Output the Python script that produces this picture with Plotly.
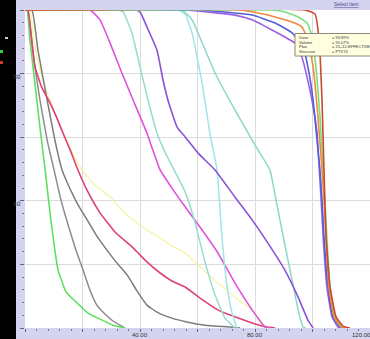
import plotly.graph_objects as go

# Cumulative dose-volume histogram: dose on x, volume (%) on y

green_oar_dose = [0, 0.7, 1.7, 2.8, 4.9, 7.0, 9.0, 11.5, 14.3, 18.1, 21.9, 26.1, 30.6, 34.8]
green_oar_vol = [100, 100, 90.6, 82.1, 65.4, 49.7, 34.0, 18.2, 11.3, 7.9, 4.7, 2.8, 0.9, 0]

gray_a_dose = [0, 1.0, 3.1, 5.2, 7.7, 10.1, 12.5, 15.0, 17.7, 20.2, 22.6, 25.0, 27.8, 30.6, 34.8]
gray_a_vol = [100, 100, 84.3, 71.7, 59.1, 49.7, 40.3, 32.4, 24.5, 18.2, 11.9, 7.2, 4.4, 2.2, 0]

gray_b_dose = [0, 2.4, 4.5, 7.7, 10.4, 12.9, 14.6, 18.1, 21.6, 25.0, 28.5, 32.0, 35.5, 39.0,
               42.4, 45.9, 51.1, 56.3, 62.6, 71.3, 74.8]
gray_b_vol = [100, 100, 87.4, 71.7, 59.1, 49.7, 45.9, 39.3, 34.0, 28.9, 24.5, 20.4, 16.7, 11.6,
              7.2, 5.0, 3.1, 1.9, 0.9, 0.3, 0]

crimson_dose = [0, 1.0, 2.1, 3.5, 5.9, 8.7, 11.1, 13.2, 15.7, 18.4, 21.9, 26.1, 31.3, 37.6,
                42.4, 47.0, 51.1, 55.7, 60.9, 67.1, 73.0, 79.0, 84.2, 87.0]
crimson_vol = [100, 100, 92.1, 82.1, 75.5, 70.8, 66.0, 61.3, 56.0, 49.7, 42.8, 36.2, 30.2, 25.2,
               20.8, 17.3, 14.8, 12.9, 9.4, 5.7, 3.5, 1.6, 0.3, 0]

yellow_dose = [0, 1.7, 3.1, 5.2, 8.0, 11.5, 15.7, 19.8, 24.3, 29.6, 33.7, 37.6, 42.4, 47.0,
               51.1, 55.7, 60.9, 67.1, 73.0, 79.0, 82.4, 84.5]
yellow_vol = [100, 100, 90.6, 81.1, 73.3, 65.4, 56.6, 49.7, 45.0, 41.2, 37.1, 34.0, 30.8, 28.3,
              25.8, 23.6, 19.2, 14.2, 9.7, 5.7, 1.9, 0]

magenta_dose = [0, 22.6, 26.1, 29.6, 33.7, 37.6, 42.4, 47.0, 51.1, 55.7, 61.6, 67.1, 73.0, 79.0, 83.5, 85.2]
magenta_vol = [100, 100, 96.9, 89.6, 80.2, 71.7, 61.3, 49.7, 44.0, 38.1, 30.8, 23.6, 14.2, 5.7, 0.3, 0]

teal_dose = [0, 32.3, 34.1, 37.2, 40.0, 42.8, 45.9, 48.7, 52.2, 55.7, 59.1, 62.6, 66.1, 69.6, 73.0]
teal_vol = [100, 100, 99.4, 92.8, 82.1, 71.7, 61.3, 55.3, 49.1, 42.8, 33.3, 20.8, 10.4, 3.1, 0]

cyan_a_dose = [0, 53.2, 55.7, 58.1, 61.6, 64.3, 66.8, 68.5, 70.3, 72.0, 73.7]
cyan_a_vol = [100, 100, 98.7, 92.8, 77.0, 61.3, 49.7, 28.6, 12.9, 4.7, 0]

cyan_b_dose = [0, 54.6, 58.1, 60.9, 66.1, 73.0, 80.0, 85.2, 87.3, 90.4, 92.9, 95.0, 96.7, 97.7]
cyan_b_vol = [100, 100, 96.9, 91.2, 80.2, 68.6, 57.5, 49.7, 40.3, 26.1, 15.1, 5.7, 0.3, 0]

violet_dose = [0, 38.6, 40.0, 42.4, 45.9, 48.0, 49.7, 52.9, 55.7, 60.2, 66.1, 73.0, 79.0,
               84.5, 90.4, 95.0, 98.4, 100.2]
violet_vol = [100, 100, 99.4, 94.7, 87.4, 78.0, 71.7, 63.2, 60.1, 55.0, 49.7, 41.2, 34.0,
              26.7, 18.2, 9.7, 2.5, 0]

ptv_purple_dose = [0, 55.7, 73.0, 79.0, 85.9, 90.4, 93.9, 96.3, 98.1, 99.8, 101.6, 102.3,
                   103.0, 103.7, 105.0, 106.8, 108.9, 110.3]
ptv_purple_vol = [100, 100, 98.4, 96.9, 93.7, 91.5, 89.6, 85.2, 78.9, 71.7, 61.3, 50.6,
                  40.3, 28.6, 12.9, 3.5, 0.3, 0]

ptv_blue_dose = [0, 60.9, 79.0, 87.0, 92.9, 96.7, 98.4, 100.2, 101.9, 102.6, 103.3, 104.0,
                 105.4, 107.1, 109.6, 111.0]
ptv_blue_vol = [100, 100, 98.4, 95.9, 92.8, 88.4, 82.1, 71.7, 56.0, 49.7, 40.3, 28.6,
                12.9, 3.5, 0.3, 0]

ptv_orange_dose = [0, 74.8, 84.5, 92.9, 96.3, 98.4, 100.2, 101.9, 103.3, 104.0, 104.7, 105.7,
                   107.5, 109.9, 111.7]
ptv_orange_vol = [100, 100, 98.4, 96.2, 94.7, 90.6, 82.1, 66.4, 49.7, 40.3, 28.6, 12.9,
                  3.5, 0.3, 0]

ptv_green_dose = [0, 85.2, 90.4, 95.0, 98.1, 99.5, 100.9, 102.6, 103.7, 104.3, 105.0, 106.1,
                  107.8, 110.3, 112.0]
ptv_green_vol = [100, 100, 99.4, 97.8, 95.9, 92.8, 84.3, 66.4, 49.7, 40.3, 28.6, 12.9,
                 3.5, 0.3, 0]

ptv_red_dose = [0, 97.4, 100.9, 102.3, 103.3, 104.0, 104.7, 106.1, 108.2, 110.6, 113.0]
ptv_red_vol = [100, 100, 98.7, 90.6, 71.7, 49.7, 28.6, 12.9, 3.5, 0.6, 0]

x_tick_labels = ["0.00", "40.00", "80.00", "120.00"]
x_label_pos = [-1.4, 40, 80, 117.2]
y_tick_labels = ["80", "40"]
y_label_pos = [79.2, 39.3]

tip_fields = ["Dose", "Volume", "Plan", "Structure"]
tip_values = ["= 93.89%", "= 95.07%", "= 25+12-EFFECTIVE", "= PTV74"]

curves = [
    (yellow_dose, yellow_vol, "#f4f49a", 1.2),
    (gray_b_dose, gray_b_vol, "#7c7c7c", 1.5),
    (gray_a_dose, gray_a_vol, "#8c8c8c", 1.5),
    (green_oar_dose, green_oar_vol, "#5fe05f", 1.6),
    (crimson_dose, crimson_vol, "#e0407a", 1.6),
    (magenta_dose, magenta_vol, "#e052dc", 1.6),
    (teal_dose, teal_vol, "#96dccf", 1.5),
    (cyan_a_dose, cyan_a_vol, "#a0e4e6", 1.5),
    (cyan_b_dose, cyan_b_vol, "#8ad8cc", 1.5),
    (violet_dose, violet_vol, "#8a52d8", 1.6),
    (ptv_purple_dose, ptv_purple_vol, "#9a60e6", 1.6),
    (ptv_blue_dose, ptv_blue_vol, "#5060d8", 1.6),
    (ptv_green_dose, ptv_green_vol, "#78e078", 1.6),
    (ptv_orange_dose, ptv_orange_vol, "#f08a40", 1.6),
    (ptv_red_dose, ptv_red_vol, "#cc4a30", 1.6),
]

W, H = 370, 339
ML, MR, MT, MB = 25, 0, 10, 11
PW, PH = W - ML - MR, H - MT - MB


def px_x(px):
    return (px - ML) / PW


def px_y(py):
    return (H - MB - py) / PH


fig = go.Figure()
for dose, vol, color, width in curves:
    fig.add_trace(go.Scatter(x=dose, y=vol, mode="lines",
                             line=dict(color=color, width=width, shape="spline", smoothing=0.4),
                             hoverinfo="skip", showlegend=False))

lavender = "#d4d4f0"
grid = "#dcdcdc"

fig.update_layout(
    width=W, height=H,
    margin=dict(l=ML, r=MR, t=MT, b=MB, autoexpand=False),
    paper_bgcolor=lavender,
    plot_bgcolor="white",
    showlegend=False,
    hovermode=False,
    xaxis=dict(range=[0, 120], tickvals=[0, 20, 40, 60, 80, 100, 120],
               showticklabels=False, ticks="outside", ticklen=3, tickcolor="#666",
               showgrid=True, gridcolor=grid, gridwidth=1, zeroline=False, showline=False,
               minor=dict(dtick=4, ticks="outside", ticklen=2, tickcolor="#777", showgrid=False)),
    yaxis=dict(range=[0, 100], tickvals=[0, 20, 40, 60, 80, 100],
               showticklabels=False, ticks="outside", ticklen=4, tickcolor="#666",
               showgrid=True, gridcolor=grid, gridwidth=1, zeroline=False, showline=False,
               minor=dict(dtick=4, ticks="outside", ticklen=2.5, tickcolor="#777", showgrid=False)),
)

shapes = [
    # dark strip along the left edge of the window
    dict(type="rect", xref="paper", yref="paper", x0=px_x(-1), x1=px_x(16),
         y0=px_y(H + 1), y1=px_y(-1), fillcolor="black", line=dict(width=0), layer="above"),
    dict(type="rect", xref="paper", yref="paper", x0=px_x(5), x1=px_x(8),
         y0=px_y(39), y1=px_y(37), fillcolor="#cfcfcf", line=dict(width=0), layer="above"),
    dict(type="rect", xref="paper", yref="paper", x0=px_x(0), x1=px_x(3),
         y0=px_y(53), y1=px_y(50), fillcolor="#3cc83c", line=dict(width=0), layer="above"),
    dict(type="rect", xref="paper", yref="paper", x0=px_x(0), x1=px_x(3),
         y0=px_y(64), y1=px_y(61), fillcolor="#d83a2a", line=dict(width=0), layer="above"),
    # hover tooltip box
    dict(type="rect", xref="paper", yref="paper", x0=px_x(295), x1=px_x(372),
         y0=px_y(56), y1=px_y(33.5), fillcolor="#ffffe0",
         line=dict(color="#8a8a7a", width=1), layer="above"),
]
fig.update_layout(shapes=shapes)

annotations = []
for lab, xv in zip(x_tick_labels, x_label_pos):
    annotations.append(dict(x=xv, y=px_y(335), xref="x", yref="paper", text=lab,
                            showarrow=False, xanchor="center", yanchor="middle",
                            font=dict(family="Arial", size=6, color="#333")))
for lab, yv in zip(y_tick_labels, y_label_pos):
    annotations.append(dict(x=px_x(22.5), y=yv, xref="paper", yref="y", text=lab,
                            showarrow=False, xanchor="right", yanchor="middle",
                            font=dict(family="Arial Black, DejaVu Sans", size=6, color="#333")))
tip_rows = [38, 42.5, 47, 51.5]
for field, val, row in zip(tip_fields, tip_values, tip_rows):
    annotations.append(dict(x=px_x(297), y=px_y(row), xref="paper", yref="paper", text=field,
                            showarrow=False, xanchor="left", yanchor="middle",
                            font=dict(family="Arial", size=4, color="#333")))
    annotations.append(dict(x=px_x(330), y=px_y(row), xref="paper", yref="paper", text=val,
                            showarrow=False, xanchor="left", yanchor="middle",
                            font=dict(family="Arial", size=4, color="#333")))
annotations.append(dict(x=px_x(346), y=px_y(4.5), xref="paper", yref="paper",
                        text="<u>Select item</u>", showarrow=False,
                        xanchor="center", yanchor="middle",
                        font=dict(family="Arial", size=5, color="#4a4a8a")))
fig.update_layout(annotations=annotations)

fig.write_html("out.html")
